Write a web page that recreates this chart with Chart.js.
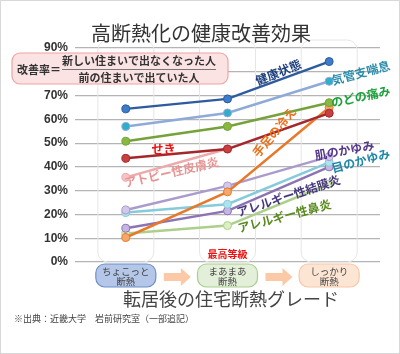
<!DOCTYPE html>
<html>
<head>
<meta charset="utf-8">
<script src="https://cdn.jsdelivr.net/npm/chart.js@4.4.1/dist/chart.umd.min.js"></script>
<style>
  html, body { margin: 0; padding: 0; background: #fff; }
  #wrap { width: 400px; height: 354px; position: relative; box-sizing: border-box; border: 1px solid #d8d8d8; }
  canvas { position: absolute; left: 0; top: 0; }
</style>
</head>
<body>
<div id="wrap"><canvas id="healthChart" width="398" height="352"></canvas></div>
<script>
const JP = '"Noto Sans CJK JP", "Noto Sans", sans-serif';

// categories (insulation grade after moving)
const grades = [['ちょこっと', '断熱'], ['まあまあ', '断熱'], ['しっかり', '断熱']];
const yTicks = [0, 10, 20, 30, 40, 50, 60, 70, 80, 90];

// improvement rate (%) per symptom
const kenkou   = [64.4, 68.6, 84.3];
const kikanshi = [57.0, 62.7, 76.0];
const nodo     = [50.8, 57.0, 67.0];
const seki     = [43.6, 47.5, 62.6];
const atopy    = [35.6, 47.6, 62.6];
const teashi   = [10.3, 29.5, 65.0];
const hada     = [21.9, 32.0, 44.3];
const me       = [20.8, 24.3, 41.9];
const ketsumaku = [14.2, 21.5, 40.0];
const bien     = [12.0, 15.3, 32.8];

const names = ['健康状態', '気管支喘息', 'のどの痛み', 'せき', 'アトピー性皮膚炎', '手足の冷え',
               '肌のかゆみ', '目のかゆみ', 'アレルギー性結膜炎', 'アレルギー性鼻炎'];
const series = [kenkou, kikanshi, nodo, seki, atopy, teashi, hada, me, ketsumaku, bien];

// line colour, point colour, label colour
const lineColors  = ['#2d5b9e', '#8eaad8', '#76a23a', '#a3282c', '#eeaaaa', '#e8792a', '#ab9bcc', '#86cbdb', '#8c74b4', '#acd08a'];
const pointColors = ['#3d7cc9', '#2eaecb', '#88b83f', '#c8403f', '#f4c4c4', '#f5a86a', '#d4c8ea', '#b0e2ee', '#c4b6e0', '#dcefc4'];
const labelColors = ['#1d3f7c', '#2a8caa', '#1fa03e', '#ee1111', '#e89494', '#ea701c', '#55388a', '#2087a6', '#47377c', '#5a8a20'];

// where each series name sits: [category index, value %, angle deg]
const labelSpots = [
  [1.50, 79.8, -22], [2.31, 79.6, -15], [2.31, 69.6, -12], [0.37, 47.5, 0], [0.45, 37.8, -13],
  [1.46, 54.6, -50], [2.15, 47.0, -10], [2.31, 42.6, -15], [1.60, 27.9, -18], [1.56, 19.4, -15]
];

const gradeFill   = ['#b5c7e8', '#e3efd9', '#fde5d3'];
const gradeBorder = ['#6f8fca', '#a9cf8d', '#f6c8a8'];

const decorations = {
  id: 'decorations',
  beforeDatasetsDraw(chart) {
    const { ctx, chartArea, scales } = chart;
    ctx.save();
    // pale column panels behind the lines
    ctx.strokeStyle = '#e6e6e6';
    ctx.lineWidth = 1;
    grades.forEach((g, i) => {
      const cx = scales.x.getPixelForValue(i);
      ctx.beginPath();
      ctx.roundRect(cx - 28, chartArea.top - 8, 56, chartArea.bottom - chartArea.top + 8, 10);
      ctx.stroke();
    });
    ctx.restore();
  },
  afterDraw(chart) {
    const { ctx, chartArea, scales } = chart;
    ctx.save();
    // title
    ctx.fillStyle = '#333';
    ctx.font = '20px ' + JP;
    ctx.textAlign = 'center';
    ctx.textBaseline = 'middle';
    ctx.fillText('高断熱化の健康改善効果', 200, 32);

    // formula box
    ctx.fillStyle = '#fbe3e3';
    ctx.strokeStyle = '#f0a3a3';
    ctx.lineWidth = 1.2;
    ctx.beginPath();
    ctx.roundRect(11, 52, 216, 31, 8);
    ctx.fill();
    ctx.stroke();
    ctx.fillStyle = '#333';
    ctx.font = 'bold 11px ' + JP;
    ctx.textAlign = 'left';
    ctx.fillText('改善率＝', 16, 69);
    ctx.textAlign = 'center';
    ctx.fillText('新しい住まいで出なくなった人', 138, 60);
    ctx.fillText('前の住まいで出ていた人', 138, 77);
    ctx.strokeStyle = '#777';
    ctx.lineWidth = 1;
    ctx.beginPath();
    ctx.moveTo(61, 68.5);
    ctx.lineTo(215, 68.5);
    ctx.stroke();

    // series names
    ctx.font = 'bold 12px ' + JP;
    labelSpots.forEach((s, i) => {
      const x = scales.x.getPixelForValue(s[0]);
      const y = scales.y.getPixelForValue(s[1]);
      ctx.save();
      ctx.translate(x, y);
      ctx.rotate(s[2] * Math.PI / 180);
      ctx.fillStyle = labelColors[i];
      ctx.fillText(names[i], 0, 0);
      ctx.restore();
    });

    // highest grade note
    ctx.fillStyle = '#ee1111';
    ctx.font = 'bold 10px ' + JP;
    ctx.fillText('最高等級', scales.x.getPixelForValue(1), chartArea.bottom - 8);

    // grade boxes with arrows
    grades.forEach((g, i) => {
      const cx = scales.x.getPixelForValue(i);
      ctx.fillStyle = gradeFill[i];
      ctx.strokeStyle = gradeBorder[i];
      ctx.lineWidth = 1.2;
      ctx.beginPath();
      ctx.roundRect(cx - 30, chartArea.bottom + 2, 60, 23, 9);
      ctx.fill();
      ctx.stroke();
      ctx.fillStyle = '#444';
      ctx.font = '9.5px ' + JP;
      ctx.fillText(g[0], cx, chartArea.bottom + 9);
      ctx.fillText(g[1], cx, chartArea.bottom + 19);
      if (i < grades.length - 1) {
        const ax = cx + 38;
        const ay = chartArea.bottom + 15;
        ctx.fillStyle = '#fbc9a6';
        ctx.beginPath();
        ctx.moveTo(ax, ay - 4);
        ctx.lineTo(ax + 17, ay - 4);
        ctx.lineTo(ax + 17, ay - 9);
        ctx.lineTo(ax + 27, ay);
        ctx.lineTo(ax + 17, ay + 9);
        ctx.lineTo(ax + 17, ay + 4);
        ctx.lineTo(ax, ay + 4);
        ctx.closePath();
        ctx.fill();
      }
    });

    // x axis title and source
    ctx.fillStyle = '#444';
    ctx.font = '18px ' + JP;
    ctx.fillText('転居後の住宅断熱グレード', 230, 298);
    ctx.font = '9px ' + JP;
    ctx.textAlign = 'left';
    ctx.fillText('※出典：近畿大学　岩前研究室（一部追記）', 13, 318);
    ctx.restore();
  }
};

const datasets = series.map((data, i) => ({
  label: names[i],
  data: data,
  borderColor: lineColors[i],
  backgroundColor: pointColors[i],
  pointBackgroundColor: pointColors[i],
  pointBorderColor: lineColors[i],
  pointBorderWidth: 1,
  pointRadius: 4,
  borderWidth: 2.5,
  tension: 0
}));

new Chart(document.getElementById('healthChart'), {
  type: 'line',
  data: { labels: grades.map(g => g.join('')), datasets: datasets },
  plugins: [decorations],
  options: {
    responsive: false,
    animation: false,
    layout: { padding: { left: 0, top: 47, right: 19, bottom: 91 } },
    plugins: { legend: { display: false }, tooltip: { enabled: false } },
    scales: {
      x: { display: false, offset: true },
      y: {
        min: 0,
        max: 90,
        afterBuildTicks: (scale) => { scale.ticks = yTicks.map(v => ({ value: v })); },
        afterFit: (scale) => { scale.width = 74; },
        border: { display: false },
        grid: { color: '#b4b4b4', lineWidth: 1.2, drawTicks: false },
        ticks: {
          padding: 7,
          color: '#333',
          font: { family: 'Arial, "Liberation Sans", sans-serif', size: 12, weight: 'bold' },
          callback: (v) => v + '%'
        }
      }
    }
  }
});
</script>
</body>
</html>
